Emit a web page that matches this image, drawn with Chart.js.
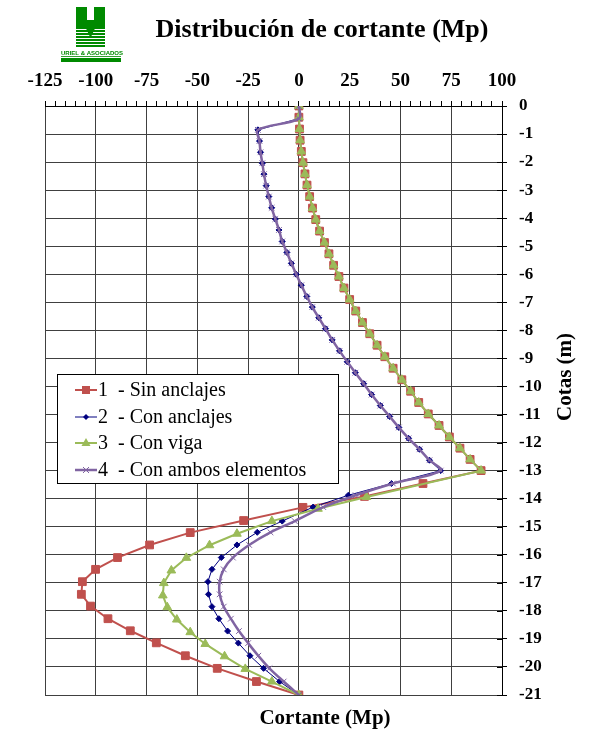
<!DOCTYPE html>
<html><head><meta charset="utf-8">
<script src="https://cdn.jsdelivr.net/npm/chart.js@4/dist/chart.umd.min.js"></script>
<style>html,body{margin:0;padding:0;background:#fff;}#wrap{width:591px;height:731px;position:relative;}</style>
</head><body><div id="wrap"><canvas id="c" width="591" height="731"></canvas></div>
<script>
// ---- Data ----
const seriesNames = ['1  - Sin anclajes', '2  - Con anclajes', '3  - Con viga', '4  - Con ambos elementos'];

const xTicks = [-125, -100, -75, -50, -25, 0, 25, 50, 75, 100];
const xTickLabels = ['-125', '-100', '-75', '-50', '-25', '0', '25', '50', '75', '100'];
const yTicks = [0, -1, -2, -3, -4, -5, -6, -7, -8, -9, -10, -11, -12, -13, -14, -15, -16, -17, -18, -19, -20, -21];
const yTickLabels = ['0', '-1', '-2', '-3', '-4', '-5', '-6', '-7', '-8', '-9', '-10', '-11', '-12', '-13', '-14', '-15', '-16', '-17', '-18', '-19', '-20', '-21'];

// Series 1 - Sin anclajes
const s1Depth = [0, -0.4, -0.82, -1.22, -1.62, -2.02, -2.42, -2.82, -3.23, -3.64, -4.05, -4.46, -4.87, -5.27, -5.68, -6.08, -6.49, -6.9, -7.31, -7.72, -8.12, -8.53, -8.94, -9.35, -9.76, -10.17, -10.57, -10.98, -11.39, -11.8, -12.2, -12.6, -13.0,
  -13.46, -13.92, -14.31, -14.78, -15.21, -15.65, -16.1, -16.52, -16.96, -17.41, -17.83, -18.28, -18.71, -19.14, -19.6, -20.05, -20.52, -21.0];
const s1Value = [0, 0, 0.3, 0.6, 1.2, 2.0, 3.0, 4.0, 5.3, 6.7, 8.3, 10.2, 12.6, 14.8, 17.1, 19.7, 22.2, 25.0, 28.0, 31.3, 34.9, 38.5, 42.3, 46.4, 50.7, 55.0, 59.0, 63.7, 69.0, 74.1, 79.3, 84.3, 89.7,
  61.1, 32.3, 2.0, -27.2, -53.5, -73.5, -89.3, -100.1, -106.6, -107.1, -102.6, -94.0, -83.0, -70.2, -55.9, -40.2, -20.9, 0];

// Series 2 - Con anclajes
const s2Depth = [0, -0.45, -0.85, -1.25, -1.65, -2.04, -2.43, -2.84, -3.23, -3.63, -4.03, -4.42, -4.83, -5.22, -5.61, -6.0, -6.39, -6.79, -7.17, -7.55, -7.94, -8.34, -8.73, -9.12, -9.51, -9.9, -10.29, -10.68, -11.07, -11.46, -11.85, -12.24, -12.63, -13.0,
  -13.46, -13.88, -14.3, -14.8, -15.2, -15.65, -16.1, -16.52, -16.96, -17.41, -17.85, -18.28, -18.72, -19.15, -19.6, -20.05, -20.52, -21.0];
const s2Value = [0, 0, -20.2, -19.4, -18.9, -18.0, -17.2, -16.1, -14.8, -13.4, -11.6, -9.8, -8.2, -5.9, -3.7, -1.3, 1.2, 3.9, 6.6, 9.8, 13.1, 16.4, 20.0, 23.8, 27.8, 31.9, 35.8, 40.1, 44.7, 49.2, 54.0, 59.4, 64.3, 69.8,
  45.6, 24.3, 7.0, -8.2, -20.5, -30.5, -38.2, -42.8, -44.8, -44.5, -42.8, -39.4, -35.1, -29.8, -24.1, -17.4, -9.5, 0];

// Series 3 - Con viga
const s3Depth = [0, -0.4, -0.82, -1.22, -1.62, -2.02, -2.42, -2.82, -3.23, -3.64, -4.05, -4.46, -4.87, -5.27, -5.68, -6.08, -6.49, -6.9, -7.31, -7.72, -8.12, -8.53, -8.94, -9.35, -9.76, -10.17, -10.57, -10.98, -11.39, -11.8, -12.2, -12.6, -13.0,
  -13.94, -14.36, -14.8, -15.25, -15.66, -16.11, -16.56, -17.01, -17.45, -17.87, -18.31, -18.76, -19.18, -19.62, -20.07, -20.52, -21.0];
const s3Value = [0, 0, 0.3, 0.6, 1.2, 2.0, 3.0, 4.0, 5.3, 6.7, 8.3, 10.2, 12.6, 14.8, 17.1, 19.7, 22.2, 25.0, 28.0, 31.3, 34.9, 38.5, 42.3, 46.4, 50.7, 55.0, 59.0, 63.7, 69.0, 74.1, 79.3, 84.3, 89.7,
  33.3, 9.4, -13.3, -30.5, -44.0, -55.4, -62.8, -66.5, -67.0, -64.8, -60.1, -53.5, -46.1, -36.6, -26.4, -13.3, 0];

// Series 4 - Con ambos elementos
const s4Depth = [0, -0.45, -0.85, -1.25, -1.65, -2.04, -2.43, -2.84, -3.23, -3.63, -4.03, -4.42, -4.83, -5.22, -5.61, -6.0, -6.39, -6.79, -7.17, -7.55, -7.94, -8.34, -8.73, -9.12, -9.51, -9.9, -10.29, -10.68, -11.07, -11.46, -11.85, -12.24, -12.63, -13.0,
  -13.46, -13.88, -14.3, -14.8, -15.2, -15.65, -16.1, -16.52, -16.96, -17.41, -17.85, -18.28, -18.72, -19.15, -19.6, -20.05, -20.52, -21.0];
const s4Value = [0, 0, -20.2, -19.4, -18.9, -18.0, -17.2, -16.1, -14.8, -13.4, -11.6, -9.8, -8.2, -5.9, -3.7, -1.3, 1.2, 3.9, 6.6, 9.8, 13.1, 16.4, 20.0, 23.8, 27.8, 31.9, 35.8, 40.1, 44.7, 49.2, 54.0, 59.4, 64.3, 69.8,
  46.3, 28.0, 12.0, -2.0, -14.0, -24.5, -32.5, -37.0, -39.0, -39.0, -37.0, -33.5, -29.5, -25.0, -20.0, -14.5, -7.5, 0];

// ---- Styles ----
const colors = ['#C0504D', '#000080', '#9BBB59', '#8064A2'];
const gridColor = '#404040';
const SERIF = '"Liberation Serif", "Times New Roman", serif';

function pts(d, v) { return v.map((val, i) => ({x: val, y: d[i]})); }

function drawMarker(ctx, style, x, y, color) {
  ctx.save();
  ctx.fillStyle = color; ctx.strokeStyle = color;
  if (style === 'rect') { ctx.fillRect(x - 4, y - 4, 8, 8); }
  else if (style === 'rectRot') { ctx.beginPath(); ctx.moveTo(x, y - 3); ctx.lineTo(x + 3, y); ctx.lineTo(x, y + 3); ctx.lineTo(x - 3, y); ctx.closePath(); ctx.fill(); }
  else if (style === 'triangle') { ctx.beginPath(); ctx.moveTo(x, y - 5); ctx.lineTo(x + 4.5, y + 3); ctx.lineTo(x - 4.5, y + 3); ctx.closePath(); ctx.fill(); }
  else if (style === 'crossRot') { ctx.lineWidth = 1; ctx.beginPath(); ctx.moveTo(x - 3, y - 3); ctx.lineTo(x + 3, y + 3); ctx.moveTo(x + 3, y - 3); ctx.lineTo(x - 3, y + 3); ctx.stroke(); }
  ctx.restore();
}

const decor = {
  id: 'decor',
  beforeDraw(chart) {
    const ctx = chart.ctx;
    ctx.save(); ctx.fillStyle = '#fff'; ctx.fillRect(0, 0, chart.width, chart.height); ctx.restore();
  },
  afterDraw(chart) {
    const ctx = chart.ctx;
    const ca = chart.chartArea;
    ctx.save();
    // Title
    ctx.fillStyle = '#000';
    ctx.textAlign = 'center'; ctx.textBaseline = 'middle';
    ctx.font = 'bold 26px ' + SERIF;
    ctx.fillText('Distribución de cortante (Mp)', 322, 30);
    // X axis title (bottom)
    ctx.font = 'bold 21px ' + SERIF;
    ctx.fillText('Cortante (Mp)', 325, 719);
    // Y axis title (right, rotated)
    ctx.save();
    ctx.translate(566, 377); ctx.rotate(-Math.PI / 2);
    ctx.fillText('Cotas (m)', 0, 0);
    ctx.restore();
    // inner half of right-axis ticks
    ctx.strokeStyle = '#000'; ctx.lineWidth = 1;
    const ys = chart.scales.y;
    yTicks.forEach(v => { const py = Math.round(ys.getPixelForValue(v)) + 0.5; ctx.beginPath(); ctx.moveTo(ca.right - 5, py); ctx.lineTo(ca.right, py); ctx.stroke(); });

    // Legend
    const lx = 57.5, ly = 374.5, lw = 281, lh = 109;
    ctx.fillStyle = '#fff'; ctx.fillRect(lx, ly, lw, lh);
    ctx.strokeStyle = '#000'; ctx.lineWidth = 1; ctx.strokeRect(lx, ly, lw, lh);
    const rowY = [390, 417, 443, 470];
    const styles = ['rect', 'rectRot', 'triangle', 'crossRot'];
    const widths = [2, 1, 2, 2.5];
    ctx.font = '20px ' + SERIF; ctx.textAlign = 'left'; ctx.textBaseline = 'middle';
    seriesNames.forEach((name, i) => {
      const y = rowY[i];
      ctx.strokeStyle = colors[i]; ctx.lineWidth = widths[i];
      ctx.beginPath(); ctx.moveTo(75, y); ctx.lineTo(97, y); ctx.stroke();
      drawMarker(ctx, styles[i], 86, y, colors[i]);
      ctx.fillStyle = '#000';
      ctx.fillText(name, 98, y + 1);
    });

    // Logo (Uriel & Asociados)
    const g = '#008a00';
    ctx.fillStyle = g;
    ctx.fillRect(76, 7, 11, 20);
    ctx.fillRect(94, 7, 11, 20);
    for (let y = 27; y < 47; y += 3) { ctx.fillRect(76, y, 29, 2); }
    ctx.beginPath(); ctx.moveTo(82, 20); ctx.lineTo(99, 20); ctx.lineTo(90.5, 38); ctx.closePath(); ctx.fill();
    ctx.font = 'bold 6px "Liberation Sans", Arial, sans-serif'; ctx.textAlign = 'left'; ctx.textBaseline = 'alphabetic';
    ctx.fillText('URIEL & ASOCIADOS', 61, 55);
    ctx.fillRect(61, 56, 60, 0.8);
    ctx.fillRect(61, 58, 60, 4);
    ctx.restore();
  }
};

const datasetDefs = [
  {d: s1Depth, v: s1Value, style: 'rect', r: 5.5, bw: 2, order: 4, tension: 0},
  {d: s2Depth, v: s2Value, style: 'rectRot', r: 3, bw: 1, order: 3, tension: 0},
  {d: s3Depth, v: s3Value, style: 'triangle', r: 5, bw: 2, order: 2, tension: 0},
  {d: s4Depth, v: s4Value, style: 'crossRot', r: 4, bw: 2.5, order: 1, tension: 0.35}
];

new Chart(document.getElementById('c'), {
  type: 'scatter',
  data: {
    datasets: datasetDefs.map((s, i) => ({
      label: seriesNames[i],
      data: pts(s.d, s.v),
      showLine: true,
      borderColor: colors[i],
      backgroundColor: colors[i],
      borderWidth: s.bw,
      pointStyle: s.style,
      pointRadius: s.r,
      pointBorderWidth: 1,
      pointBorderColor: colors[i],
      pointBackgroundColor: colors[i],
      tension: s.tension,
      order: s.order
    }))
  },
  options: {
    responsive: false,
    animation: false,
    devicePixelRatio: 1,
    layout: {padding: {left: 45, right: 0, top: 0, bottom: 36}},
    plugins: {legend: {display: false}, tooltip: {enabled: false}, title: {display: false}},
    events: [],
    scales: {
      x: {
        type: 'linear', position: 'top', min: -125, max: 100,
        afterBuildTicks: (s) => { const t = []; for (let v = -125; v <= 100; v += 5) t.push({value: v}); s.ticks = t; },
        afterFit: (s) => { s.height = 106; },
        ticks: {
          autoSkip: false, maxRotation: 0, minRotation: 0, padding: 9, color: '#000',
          font: {family: SERIF, size: 19, weight: 'bold'},
          callback: (v) => { const i = xTicks.indexOf(v); return i >= 0 ? xTickLabels[i] : ''; }
        },
        grid: {
          color: (c) => (c.tick && xTicks.indexOf(c.tick.value) >= 0) ? gridColor : 'rgba(0,0,0,0)',
          tickColor: '#000', tickLength: 5, lineWidth: 1
        },
        border: {color: '#000', width: 1}
      },
      y: {
        type: 'linear', position: 'right', min: -21, max: 0,
        afterBuildTicks: (s) => { s.ticks = yTicks.slice().reverse().map(v => ({value: v})); },
        afterFit: (s) => { s.width = 89; },
        ticks: {
          padding: 12, color: '#000',
          font: {family: SERIF, size: 17, weight: 'bold'},
          callback: (v) => { const i = yTicks.indexOf(v); return i >= 0 ? yTickLabels[i] : ''; }
        },
        grid: {color: gridColor, tickColor: '#000', tickLength: 5, lineWidth: 1},
        border: {color: '#000', width: 1}
      }
    }
  },
  plugins: [decor]
});
</script></body></html>
